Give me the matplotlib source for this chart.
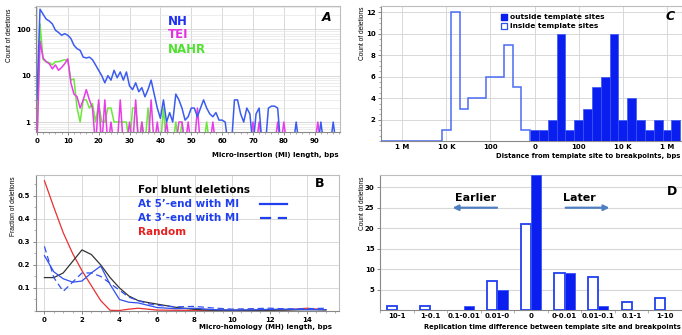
import numpy as np
import matplotlib
matplotlib.use("Agg")
import matplotlib.pyplot as plt
from matplotlib.ticker import LogLocator, NullFormatter, MultipleLocator, FixedLocator

# ---------------- Panel A data ----------------
mi_length = list(range(98))
nh_counts = [3, 270, 210, 165, 150, 130, 95, 85, 74, 80,
             74, 63, 45, 38, 35, 25, 24, 25, 22, 17,
             13, 10, 7, 10, 8, 13, 9, 12, 8, 12,
             6, 5, 7, 4.5, 5.5, 3.5, 5, 8, 4, 2,
             1.2, 3, 1, 1.6, 1, 4, 3, 2, 1.1, 1.3,
             2, 2, 1.3, 2, 3, 2, 1.5, 1.3, 1.6, 1.1,
             1.1, 1, 0, 0, 3, 3, 1.5, 1, 2, 1.5,
             0, 1.5, 2, 0, 0, 2, 2.2, 2.2, 2, 0,
             0, 0, 0, 0, 1, 0, 0, 0, 0, 0,
             0, 0, 1, 0, 0, 0, 1, 0]
tei_counts = [0, 55, 24, 20, 18, 14, 17, 13, 15, 18,
              23, 7, 4, 3.5, 2, 3, 5, 3, 2, 0,
              3, 0, 3, 0, 1, 0, 0, 3, 0, 0,
              1, 0, 3, 0, 1, 0, 0, 3, 0, 1,
              0, 0, 1, 0, 0, 0, 1, 1, 0, 1,
              0, 0, 2, 0, 0, 0, 0, 1, 0, 0,
              0, 0, 0, 0, 0, 0, 0, 0, 0, 0,
              1, 0, 1, 0, 0, 0, 0, 0, 1, 0,
              1, 0, 0, 0, 0, 0, 0, 0, 0, 0,
              0, 1, 0, 0, 0, 0, 0, 0]
nahr_counts = [0, 130, 22, 20, 19, 17, 20, 20, 21, 22,
               21, 8, 8.5, 2, 1, 3, 3, 2, 2.5, 1,
               2.5, 1, 1, 2, 2, 1, 1, 1, 1, 1,
               0, 2, 2, 0, 1, 0, 2, 0, 0, 0,
               0, 2, 0, 0, 0, 1, 0, 1, 0, 0,
               0, 0, 0, 0, 0, 1, 0, 0, 0, 0,
               0, 0, 0, 0, 0, 0, 0, 0, 0, 0,
               0, 0, 0, 0, 0, 0, 0, 0, 0, 0,
               0, 0, 0, 0, 0, 0, 0, 0, 0, 0,
               0, 0, 0, 0, 0, 0, 0, 0]

# ---------------- Panel B data ----------------
mh_length = [0, 0.5, 1, 1.5, 2, 2.5, 3, 3.5, 4, 4.5, 5, 5.5, 6,
             7, 8, 9, 10, 11, 12, 13, 14, 15]
blunt_frac = [0.145, 0.145, 0.165, 0.215, 0.265, 0.245, 0.2, 0.145, 0.1, 0.065,
              0.045, 0.037, 0.03, 0.016, 0.007, 0.003, 0.003, 0.003, 0.003,
              0.004, 0.006, 0.005]
mi5_frac = [0.24, 0.17, 0.14, 0.125, 0.13, 0.165, 0.195, 0.115, 0.05, 0.038,
            0.035, 0.025, 0.015, 0.01, 0.012, 0.006, 0.004, 0.005, 0.007,
            0.008, 0.006, 0.006]
mi3_frac = [0.28, 0.145, 0.085, 0.125, 0.165, 0.165, 0.15, 0.12, 0.09, 0.06,
            0.045, 0.032, 0.025, 0.018, 0.02, 0.013, 0.008, 0.01, 0.012,
            0.009, 0.01, 0.012]
random_frac = [0.565, 0.45, 0.34, 0.25, 0.175, 0.11, 0.045, 0.003, 0.002, 0.008,
               0.012, 0.008, 0.004, 0.003, 0.003, 0.003, 0.003, 0.003, 0.005,
               0.006, 0.012, 0.005]

# ---------------- Panel C data ----------------
inside_bins = list(range(-17, 0))
inside_counts = [0, 0, 0, 0, 0, 0, 0, 1, 12, 3, 4, 4, 6, 6, 9, 5, 1]
outside_bins = list(range(0, 17))
outside_counts = [1, 1, 2, 10, 1, 2, 3, 5, 6, 10, 2, 4, 2, 1, 2, 1, 2]
c_tick_bins = [-15, -10, -5, 0, 5, 10, 15]
c_tick_labels = ["1 M", "10 K", "100", "0", "100", "10 K", "1 M"]

# ---------------- Panel D data ----------------
rt_categories = ["10-1", "1-0.1", "0.1-0.01", "0.01-0", "0", "0-0.01",
                 "0.01-0.1", "0.1-1", "1-10"]
rt_inside = [1, 1, 0, 7, 21, 9, 8, 2, 3]
rt_outside = [0, 0, 1, 5, 33, 9, 1, 0, 0]

# ---------------- styling ----------------
W, H = 682, 335
fig = plt.figure(figsize=(W / 100, H / 100), dpi=100)
GRID = "#d8d8d8"
SPINE = "#bdbdbd"
TICKFS = 5
YLAB = dict(rotation=90, fontsize=4.8, family=["Liberation Sans", "DejaVu Sans"],
            ha="center", va="top")


def box(l, t, r, b):
    return [l / W, 1 - b / H, (r - l) / W, (b - t) / H]


def style(ax):
    for s in ax.spines.values():
        s.set_color(SPINE)
        s.set_linewidth(0.8)
    ax.spines["bottom"].set_color("#888888")
    ax.spines["left"].set_color("#888888")
    ax.tick_params(labelsize=TICKFS, length=2, width=0.5, colors="#555555",
                   labelcolor="black", pad=2)
    ax.tick_params(which="minor", length=1.2, width=0.4, colors="#777777")
    for lab in ax.get_xticklabels() + ax.get_yticklabels():
        lab.set_fontweight("bold")
    ax.set_axisbelow(True)


# ================= Panel A =================
axA = fig.add_axes(box(36, 6, 340, 132))
floor = 0.3
for vals, col in [(nahr_counts, "#6be83a"), (tei_counts, "#e83ce8"),
                  (nh_counts, "#3a5cf0")]:
    axA.plot(mi_length, np.clip(np.array(vals, float), floor, None),
             color=col, lw=1.1, solid_joinstyle="round")
axA.set_yscale("log")
axA.set_ylim(0.61, 316)
axA.set_xlim(-0.3, 98.2)
axA.set_xticks(range(0, 100, 10))
axA.xaxis.set_minor_locator(MultipleLocator(2))
axA.yaxis.set_major_locator(FixedLocator([1, 10, 100]))
axA.set_yticklabels(["1", "10", "100"])
axA.yaxis.set_minor_locator(LogLocator(base=10, subs=np.arange(2, 10)))
axA.yaxis.set_minor_formatter(NullFormatter())
axA.grid(True, which="major", color=GRID, lw=0.7)
axA.grid(True, which="minor", axis="y", color="#e6e6e6", lw=0.5)
style(axA)
axA.text(0.434, 0.875, "NH", transform=axA.transAxes, color="#2030f0",
         fontsize=8.5, fontweight="bold", va="center")
axA.text(0.434, 0.77, "TEI", transform=axA.transAxes, color="#e030e0",
         fontsize=8.5, fontweight="bold", va="center")
axA.text(0.434, 0.655, "NAHR", transform=axA.transAxes, color="#50e030",
         fontsize=8.5, fontweight="bold", va="center")
axA.text(0.955, 0.91, "A", transform=axA.transAxes, fontsize=9,
         fontweight="bold", fontstyle="italic", ha="center", va="center")
fig.text(339 / W, 1 - 155 / H, "Micro-insertion (MI) length, bps",
         fontsize=5, fontweight="bold", ha="right", va="center")
fig.text(10 / W, 1 - 8 / H, "Count of deletions", **YLAB)

# ================= Panel B =================
axB = fig.add_axes(box(36, 175, 339, 311))
axB.plot(mh_length, random_frac, color="#e83030", lw=0.9)
axB.plot(mh_length, blunt_frac, color="#333333", lw=0.9)
axB.plot(mh_length, mi5_frac, color="#3050f0", lw=0.9)
axB.plot(mh_length, mi3_frac, color="#3050f0", lw=0.9, ls=(0, (5, 3)))
axB.set_xlim(-0.45, 15.7)
axB.set_ylim(0, 0.59)
axB.set_xticks(range(0, 16, 2))
axB.xaxis.set_minor_locator(MultipleLocator(0.5))
axB.set_yticks([0.1, 0.2, 0.3, 0.4, 0.5])
axB.set_yticklabels(["0.1", "0.2", "0.3", "0.4", "0.5"])
axB.yaxis.set_minor_locator(MultipleLocator(0.05))
axB.grid(True, which="major", color=GRID, lw=0.7)
style(axB)
lx = 0.337
axB.text(lx, 0.89, "For blunt deletions", transform=axB.transAxes,
         fontsize=7.5, fontweight="bold", color="black", va="center")
axB.text(lx, 0.785, "At 5\u2019-end with MI", transform=axB.transAxes,
         fontsize=7.5, fontweight="bold", color="#2040f0", va="center")
axB.text(lx, 0.682, "At 3\u2019-end with MI", transform=axB.transAxes,
         fontsize=7.5, fontweight="bold", color="#2040f0", va="center")
axB.text(lx, 0.578, "Random", transform=axB.transAxes,
         fontsize=7.5, fontweight="bold", color="#e82020", va="center")
axB.plot([0.74, 0.83], [0.785, 0.785], transform=axB.transAxes,
         color="#2040f0", lw=1.6)
axB.plot([0.74, 0.83], [0.682, 0.682], transform=axB.transAxes,
         color="#2040f0", lw=1.6, ls=(0, (5, 3)))
axB.text(0.937, 0.94, "B", transform=axB.transAxes, fontsize=9,
         fontweight="bold", ha="center", va="center")
fig.text(332 / W, 1 - 327 / H, "Micro-homology (MH) length, bps",
         fontsize=5, fontweight="bold", ha="right", va="center")
fig.text(14 / W, 1 - 176 / H, "Fraction of deletions", **YLAB)

# ================= Panel C =================
axC = fig.add_axes(box(381, 6, 682, 141))
FILLB = "#0a1ef0"
axC.bar(outside_bins, outside_counts, width=1.0, color=FILLB,
        edgecolor="#3a55f5", lw=0.5, zorder=3)
edges = np.append(np.array(inside_bins, float) - 0.5, inside_bins[-1] + 0.5)
axC.stairs(inside_counts, edges, baseline=0, fill=False, color="#4a6cf2",
           lw=1.1, zorder=3)
axC.set_xlim(-17.4, 16.7)
axC.set_ylim(0, 12.6)
axC.set_xticks(c_tick_bins)
axC.set_xticklabels(c_tick_labels)
axC.set_yticks(range(2, 13, 2))
axC.yaxis.set_minor_locator(MultipleLocator(0.5))
axC.grid(True, which="major", color=GRID, lw=0.7)
style(axC)
axC.tick_params(axis="x", length=0)
axC.scatter([0.41], [0.915], transform=axC.transAxes, marker="s", s=14,
            color=FILLB, zorder=4, clip_on=False)
axC.scatter([0.41], [0.85], transform=axC.transAxes, marker="s", s=14,
            facecolor="white", edgecolor="#3050f0", lw=0.9, zorder=4,
            clip_on=False)
axC.text(0.43, 0.915, "outside template sites", transform=axC.transAxes,
         fontsize=5.3, fontweight="bold", va="center")
axC.text(0.43, 0.85, "inside template sites", transform=axC.transAxes,
         fontsize=5.3, fontweight="bold", va="center")
axC.text(0.96, 0.92, "C", transform=axC.transAxes, fontsize=9,
         fontweight="bold", fontstyle="italic", ha="center", va="center")
fig.text(680 / W, 1 - 156 / H, "Distance from template site to breakpoints, bps",
         fontsize=4.85, fontweight="bold", ha="right", va="center")
fig.text(362 / W, 1 - 7 / H, "Count of deletions", **YLAB)

# ================= Panel D =================
axD = fig.add_axes(box(380, 175, 682, 310))
xd = np.arange(len(rt_categories))
ins = np.array(rt_inside, float)
outs = np.array(rt_outside, float)
mi = ins > 0
mo = outs > 0
axD.bar(xd[mi] - 0.15, ins[mi], width=0.3, facecolor="white",
        edgecolor="#2040f0", lw=1.3, zorder=3)
axD.bar(xd[mo] + 0.15, outs[mo], width=0.3, color="#0a1ef0",
        edgecolor="#3a55f5", lw=0.6, zorder=3)
axD.set_xlim(-0.5, 8.5)
axD.set_ylim(0, 33)
axD.set_xticks(xd)
axD.set_xticklabels(rt_categories)
axD.set_yticks(range(5, 31, 5))
axD.xaxis.set_minor_locator(FixedLocator(np.arange(-0.5, 9, 1)))
axD.grid(True, which="major", axis="y", color=GRID, lw=0.8)
style(axD)
axD.tick_params(axis="x", which="major", length=0)
axD.tick_params(axis="x", which="minor", length=2)
ARROW = "#4f7fc0"
axD.text(2.35, 27.45, "Earlier", fontsize=8, fontweight="bold",
         ha="center", va="center")
axD.text(5.45, 27.45, "Later", fontsize=8, fontweight="bold",
         ha="center", va="center")
axD.annotate("", xy=(1.58, 25.0), xytext=(3.07, 25.0),
             arrowprops=dict(arrowstyle="-|>", color=ARROW, lw=1.6,
                             mutation_scale=8))
axD.annotate("", xy=(6.42, 25.0), xytext=(4.95, 25.0),
             arrowprops=dict(arrowstyle="-|>", color=ARROW, lw=1.6,
                             mutation_scale=8))
axD.text(0.966, 0.875, "D", transform=axD.transAxes, fontsize=9,
         fontweight="bold", ha="center", va="center")
fig.text(681 / W, 1 - 327 / H,
         "Replication time difference between template site and breakpoints",
         fontsize=4.85, fontweight="bold", ha="right", va="center")
fig.text(362 / W, 1 - 176 / H, "Count of deletions", **YLAB)

fig.savefig("out.png", dpi=100)
